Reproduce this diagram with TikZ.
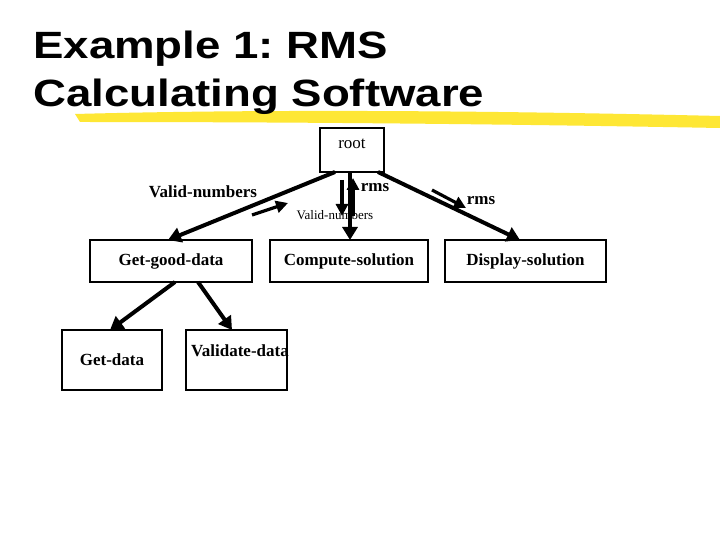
\documentclass[tikz,border=0pt]{standalone}
\usepackage{fontspec}
\newfontfamily\titlefont{Liberation Sans}
\setmainfont{Liberation Serif}
\usetikzlibrary{arrows.meta}
\begin{document}
\frenchspacing
\begin{tikzpicture}[x=1pt,y=-1pt,
  box/.style={draw,line width=2.2pt,minimum height=42pt,inner sep=0pt,font=\bfseries\fontsize{17}{17}\selectfont},
  arr/.style={line width=4pt,-{Triangle[length=13pt,width=15pt]}},
  sarr/.style={line width=3.2pt,-{Triangle[length=12pt,width=12pt]}},
  lab/.style={font=\bfseries\fontsize{17}{17}\selectfont,inner sep=0pt},
  ttl/.style={anchor=west,font=\titlefont\bfseries\fontsize{38}{38}\selectfont,inner sep=0pt,xscale=1.2}]
\useasboundingbox (0,0) rectangle (720,540);
\fill[white] (0,0) rectangle (720,540);
\fill[yellow!85!orange,opacity=0.8] (75,114) .. controls (300,108) and (550,112) .. (720,116) -- (720,128) .. controls (500,124) and (300,122) .. (80,122) -- cycle;
\node[ttl] (t1) at (33,49) {Example 1: RMS};
\node[ttl] (t2) at (33,97) {Calculating Software};
\node[box,minimum width=64pt,minimum height=44pt,text depth=12pt] (root) at (352,150) {\mdseries root};
\node[box,minimum width=162pt] (ggd) at (171,261) {Get-good-data};
\node[box,minimum width=158pt] (cs) at (349,261) {Compute-solution};
\node[box,minimum width=161pt] (ds) at (525.5,261) {Display-solution};
\node[box,minimum width=100pt,minimum height=60pt] (gd) at (112,360) {Get-data};
\node[box,minimum width=101pt,minimum height=60pt] (vd) at (236.5,360) {};
\node[lab] (vdl) at (240,351) {Validate-data};
\coordinate (r1) at (335,172); \coordinate (g1) at (168,240);
\coordinate (r2) at (350,172); \coordinate (c1) at (350,240);
\coordinate (r3) at (378,172); \coordinate (d1) at (520,240);
\draw[arr] (r1) -- (g1);
\draw[arr] (r2) -- (c1);
\draw[arr] (r3) -- (d1);
\coordinate (g2) at (175,282); \coordinate (g3) at (198,282);
\coordinate (gdt) at (110,330); \coordinate (vdt) at (232,330);
\draw[arr] (g2) -- (gdt);
\draw[arr] (g3) -- (vdt);
\coordinate (a1) at (342,180); \coordinate (a2) at (342,216);
\coordinate (b1) at (353,216); \coordinate (b2) at (353,178);
\draw[sarr] (a1) -- (a2);
\draw[sarr] (b1) -- (b2);
\coordinate (v1) at (252,215); \coordinate (v2) at (288,203);
\draw[sarr] (v1) -- (v2);
\coordinate (m1) at (432,190); \coordinate (m2) at (466,208);
\draw[sarr] (m1) -- (m2);
\node[lab] (l1) at (203,192) {Valid-numbers};
\node[lab] (l2) at (375,188) {rms};
\node[lab,font=\fontsize{13}{13}\selectfont] (l3) at (335,215) {Valid-numbers};
\node[lab] (l4) at (481,201) {rms};
\end{tikzpicture}
\end{document}
